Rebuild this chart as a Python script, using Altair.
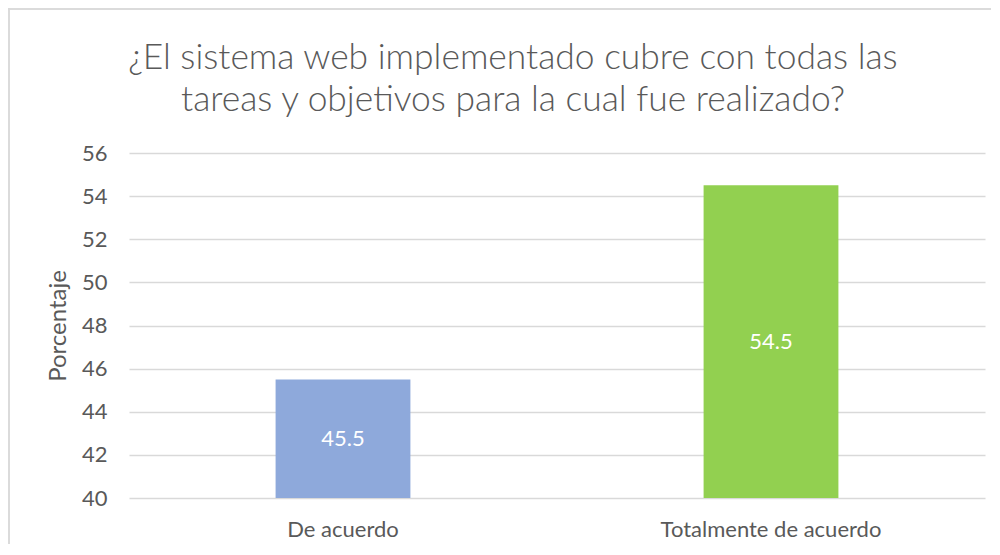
import altair as alt
import pandas as pd

categories = ["De acuerdo", "Totalmente de acuerdo"]
values = [45.5, 54.5]
colors = ["#8EA9DB", "#92D050"]
title_text = "¿El sistema web implementado cubre con todas las\ntareas y objetivos para la cual fue realizado?"
y_ticks = [40, 42, 44, 46, 48, 50, 52, 54, 56]

df = pd.DataFrame({"cat": categories, "val": values, "color": colors,
                   "base": [40] * len(values)})
df["mid"] = (df["val"] + df["base"]) / 2
df["label"] = df["val"].map(lambda v: f"{v:g}")
title_df = pd.DataFrame({"t": [title_text]})

FONT = "Lato"
TXT = "#595959"
GRID = "#D9D9D9"

x = alt.X("cat:N", sort=categories, title=None,
          scale=alt.Scale(paddingInner=0.685, paddingOuter=0.3425),
          axis=alt.Axis(labelAngle=0, labelFontSize=22, labelColor=TXT, labelFont=FONT,
                        labelLimit=500, domain=False, ticks=False, labelPadding=21, grid=False))
yscale = alt.Scale(domain=[40, 56], zero=False, nice=False)

bars = alt.Chart(df).mark_bar().encode(
    x=x,
    y=alt.Y("val:Q", scale=yscale, title="Porcentaje",
            axis=alt.Axis(values=y_ticks, labelFontSize=22, labelColor=TXT, labelFont=FONT,
                          titleFontSize=24, titleColor=TXT, titleFont=FONT, titleFontWeight="normal",
                          titlePadding=11, domain=False, ticks=False, labelPadding=22,
                          grid=True, gridColor=GRID, gridWidth=1.5)),
    y2="base:Q",
    color=alt.Color("color:N", scale=None),
)

labels = alt.Chart(df).mark_text(color="white", fontSize=22, font=FONT).encode(
    x=alt.X("cat:N", sort=categories),
    y=alt.Y("mid:Q", scale=yscale),
    text="label:N",
)

title = alt.Chart(title_df).mark_text(
    fontSize=35.4, font=FONT, fontWeight=300, color=TXT, lineBreak="\n", lineHeight=42,
    align="center", baseline="middle").encode(
    x=alt.value(384), y=alt.value(-95), text="t:N")

frame_top = alt.Chart(df).mark_rule(color=GRID, strokeWidth=1.5).encode(
    x=alt.value(-121), x2=alt.value(862), y=alt.value(-144))
frame_left = alt.Chart(df).mark_rule(color=GRID, strokeWidth=1.5).encode(
    x=alt.value(-120), y=alt.value(-145), y2=alt.value(392))

chart = alt.layer(frame_top, frame_left, title, bars, labels).properties(
    width=856, height=345,
    autosize=alt.AutoSizeParams(type="none"),
    padding={"left": 121, "top": 145, "right": 7, "bottom": 46},
).configure_view(stroke=None)

chart.save("out.html", embed_options={"renderer": "svg", "actions": False})
